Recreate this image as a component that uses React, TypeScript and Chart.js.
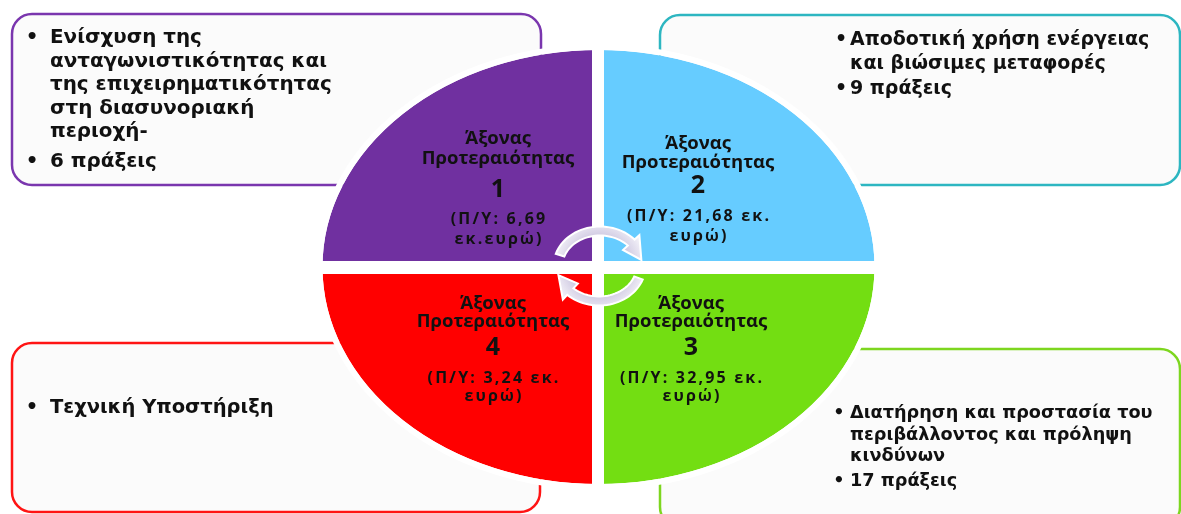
import React, { useEffect, useRef } from 'react';
import { Chart, registerables } from 'chart.js';

Chart.register(...registerables);

// ---------------- data ----------------
const axisLabels = [
  'Άξονας Προτεραιότητας 1',
  'Άξονας Προτεραιότητας 2',
  'Άξονας Προτεραιότητας 3',
  'Άξονας Προτεραιότητας 4',
];
const axisTitleLines = ['Άξονας', 'Προτεραιότητας'];
const axisNumbers = ['1', '2', '3', '4'];
const quadrantShares = [25, 25, 25, 25];
const budgetLine1 = ['(Π/Υ: 6,69', '(Π/Υ: 21,68 εκ.', '(Π/Υ: 32,95 εκ.', '(Π/Υ: 3,24 εκ.'];
const budgetLine2 = ['εκ.ευρώ)', 'ευρώ)', 'ευρώ)', 'ευρώ)'];
const themeLines = [
  ['Ενίσχυση της', 'ανταγωνιστικότητας και', 'της επιχειρηματικότητας', 'στη διασυνοριακή', 'περιοχή-'],
  ['Αποδοτική χρήση ενέργειας', 'και βιώσιμες μεταφορές'],
  ['Διατήρηση και προστασία του', 'περιβάλλοντος και πρόληψη', 'κινδύνων'],
  ['Τεχνική Υποστήριξη'],
];
const actionsCount = ['6 πράξεις', '9 πράξεις', '17 πράξεις', ''];

// ---------------- styles / layout ----------------
const W = 1181;
const H = 514;
const sliceColors = ['#7030A0', '#66CCFF', '#73DE12', '#FF0000'];
const boxColors = ['#7A36AE', '#2DB6C1', '#7DD61F', '#FF1414'];
const boxRects = [
  { x: 12, y: 14, w: 529, h: 171 },
  { x: 660, y: 15, w: 520, h: 170 },
  { x: 660, y: 349, w: 520, h: 178 },
  { x: 12, y: 343, w: 528, h: 169 },
];
const PIE = { cx: 598.5, cy: 267, rx: 276, ry: 217 };
const GAP = { vx: 598, vw: 12, hy: 267.5, hh: 13 };
const labelPos = [
  { x: 498, ys: [137, 157, 187, 218, 238] },
  { x: 698, ys: [142, 161, 183, 215, 235] },
  { x: 691, ys: [302, 320, 345, 377, 395] },
  { x: 493, ys: [302, 320, 345, 377, 395] },
];
const textLayouts = [
  { left: 50, bullet: 32, first: 37, lh: 23.5, gap: 6, size: 19.9 },
  { left: 850, bullet: 841, first: 38, lh: 24.5, gap: 0, size: 19 },
  { left: 850, bullet: 839, first: 413, lh: 21.5, gap: 3, size: 17.7 },
  { left: 50, bullet: 32, first: 407, lh: 24, gap: 0, size: 19.5 },
];
const BOX_FONT = '"DejaVu Sans", Verdana, sans-serif';
const LABEL_FONT = '"Open Sans", "Noto Sans", sans-serif';

function roundRectPath(ctx: CanvasRenderingContext2D, x: number, y: number, w: number, h: number, r: number) {
  ctx.beginPath();
  ctx.moveTo(x + r, y);
  ctx.lineTo(x + w - r, y);
  ctx.arcTo(x + w, y, x + w, y + r, r);
  ctx.lineTo(x + w, y + h - r);
  ctx.arcTo(x + w, y + h, x + w - r, y + h, r);
  ctx.lineTo(x + r, y + h);
  ctx.arcTo(x, y + h, x, y + h - r, r);
  ctx.lineTo(x, y + r);
  ctx.arcTo(x, y, x + r, y, r);
  ctx.closePath();
}

function drawCurvedArrow(
  ctx: CanvasRenderingContext2D,
  cx: number, cy: number, rx: number, ry: number,
  a0deg: number, a1deg: number, headDeg: number, bw: number, hw: number
) {
  const rad = (d: number) => (d * Math.PI) / 180;
  const pt = (a: number, off: number) => [cx + (rx + off) * Math.cos(rad(a)), cy + (ry + off) * Math.sin(rad(a))];
  const aH = a1deg - headDeg;
  const steps = 30;
  ctx.beginPath();
  for (let i = 0; i <= steps; i++) {
    const a = a0deg + ((aH - a0deg) * i) / steps;
    const p = pt(a, bw / 2);
    if (i === 0) ctx.moveTo(p[0], p[1]);
    else ctx.lineTo(p[0], p[1]);
  }
  let p = pt(aH, hw);
  ctx.lineTo(p[0], p[1]);
  p = pt(a1deg, 0);
  ctx.lineTo(p[0], p[1]);
  p = pt(aH, -hw);
  ctx.lineTo(p[0], p[1]);
  for (let i = steps; i >= 0; i--) {
    const a = a0deg + ((aH - a0deg) * i) / steps;
    const q = pt(a, -bw / 2);
    ctx.lineTo(q[0], q[1]);
  }
  ctx.closePath();
  const g = ctx.createRadialGradient(cx, cy, Math.max(1, ry - bw), cx, cy, ry + hw);
  g.addColorStop(0, '#C9C2DD');
  g.addColorStop(1, '#F1EFF7');
  ctx.fillStyle = g;
  ctx.fill();
  ctx.lineWidth = 2;
  ctx.strokeStyle = '#FFFFFF';
  ctx.stroke();
}

const diagramPlugin = {
  id: 'diagram',
  beforeDraw(chart: any) {
    const ctx: CanvasRenderingContext2D = chart.ctx;
    ctx.save();
    ctx.fillStyle = '#FFFFFF';
    ctx.fillRect(0, 0, chart.width, chart.height);
    boxRects.forEach((r, i) => {
      roundRectPath(ctx, r.x, r.y, r.w, r.h, 20);
      ctx.fillStyle = '#FBFBFB';
      ctx.fill();
      ctx.lineWidth = 2.5;
      ctx.strokeStyle = boxColors[i];
      ctx.stroke();
    });
    ctx.restore();
  },
  beforeDatasetsDraw(chart: any) {
    const ctx: CanvasRenderingContext2D = chart.ctx;
    const arc = chart.getDatasetMeta(0).data[0];
    const { x, y, outerRadius } = arc.getProps(['x', 'y', 'outerRadius'], true);
    ctx.save();
    ctx.translate(x, y);
    ctx.scale(PIE.rx / outerRadius, 1);
    ctx.translate(-x, -y);
  },
  afterDatasetsDraw(chart: any) {
    const ctx: CanvasRenderingContext2D = chart.ctx;
    ctx.restore();
    const arc = chart.getDatasetMeta(0).data[0];
    const { x, y, outerRadius } = arc.getProps(['x', 'y', 'outerRadius'], true);
    const rx = PIE.rx;
    const ry = outerRadius;
    ctx.save();
    // white outline around the pie
    ctx.beginPath();
    ctx.ellipse(x, y, rx + 3, ry + 3, 0, 0, Math.PI * 2);
    ctx.lineWidth = 6;
    ctx.strokeStyle = '#FFFFFF';
    ctx.stroke();
    // white separators
    ctx.fillStyle = '#FFFFFF';
    ctx.fillRect(GAP.vx - GAP.vw / 2, y - ry - 6, GAP.vw, 2 * ry + 12);
    ctx.fillRect(x - rx - 6, GAP.hy - GAP.hh / 2, 2 * rx + 12, GAP.hh);
    // circular arrows
    drawCurvedArrow(ctx, 600, 266, 42, 35, 198, 350, 32, 9, 11);
    drawCurvedArrow(ctx, 599, 266, 42, 35, 20, 165, 32, 9, 11);
    ctx.restore();
  },
};

export default function App() {
  const canvasRef = useRef<HTMLCanvasElement | null>(null);

  useEffect(() => {
    if (!canvasRef.current) return;
    const chart = new Chart(canvasRef.current, {
      type: 'pie',
      data: {
        labels: axisLabels,
        datasets: [
          {
            data: quadrantShares,
            backgroundColor: sliceColors,
            borderWidth: 0,
            hoverOffset: 0,
            clip: false as any,
          },
        ],
      },
      options: {
        responsive: false,
        animation: false,
        events: [],
        rotation: 270,
        layout: {
          padding: {
            top: PIE.cy - PIE.ry,
            bottom: H - (PIE.cy + PIE.ry),
            left: PIE.cx - PIE.ry,
            right: W - (PIE.cx + PIE.ry),
          },
        },
        plugins: {
          legend: { display: false },
          tooltip: { enabled: false },
        },
      },
      plugins: [diagramPlugin as any],
    });
    return () => chart.destroy();
  }, []);

  const boxTexts: React.ReactNode[] = [];
  themeLines.forEach((lines, i) => {
    const L = textLayouts[i];
    const paras: string[][] = [lines];
    if (actionsCount[i]) paras.push([actionsCount[i]]);
    let cy = L.first;
    paras.forEach((para, pi) => {
      para.forEach((line, li) => {
        const top = cy - L.lh / 2;
        if (li === 0) {
          boxTexts.push(
            <div
              key={`b${i}-${pi}`}
              style={{
                position: 'absolute', left: L.bullet - 10, top, width: 20, height: L.lh,
                lineHeight: `${L.lh}px`, textAlign: 'center', fontFamily: BOX_FONT,
                fontWeight: 700, fontSize: L.size, color: '#111',
              }}
            >
              •
            </div>
          );
        }
        boxTexts.push(
          <div
            key={`t${i}-${pi}-${li}`}
            style={{
              position: 'absolute', left: L.left, top, height: L.lh, lineHeight: `${L.lh}px`,
              whiteSpace: 'nowrap', fontFamily: BOX_FONT, fontWeight: 700, fontSize: L.size, color: '#111',
            }}
          >
            {line}
          </div>
        );
        cy += L.lh;
      });
      cy += L.gap;
    });
  });

  const labelTexts: React.ReactNode[] = [];
  axisNumbers.forEach((num, i) => {
    const P = labelPos[i];
    const rows = [
      { text: axisTitleLines[0], size: 18.5, ls: 0 },
      { text: axisTitleLines[1], size: 18.5, ls: 0 },
      { text: num, size: 25, ls: 0 },
      { text: budgetLine1[i], size: 16, ls: 2.2 },
      { text: budgetLine2[i], size: 16, ls: 2.2 },
    ];
    rows.forEach((r, ri) => {
      labelTexts.push(
        <div
          key={`l${i}-${ri}`}
          style={{
            position: 'absolute', left: P.x - 120, width: 240, top: P.ys[ri] - 13, height: 26,
            lineHeight: '26px', textAlign: 'center', whiteSpace: 'nowrap', fontFamily: LABEL_FONT,
            fontWeight: 700, fontSize: r.size, letterSpacing: r.ls ? `${r.ls}px` : undefined,
            textIndent: r.ls ? `${r.ls}px` : undefined, color: '#111',
          }}
        >
          {r.text}
        </div>
      );
    });
  });

  return (
    <div style={{ position: 'absolute', left: 0, top: 0, width: W, height: H, background: '#fff', overflow: 'hidden' }}>
      <canvas ref={canvasRef} width={W} height={H} style={{ display: 'block', width: W, height: H }} />
      {boxTexts}
      {labelTexts}
    </div>
  );
}
